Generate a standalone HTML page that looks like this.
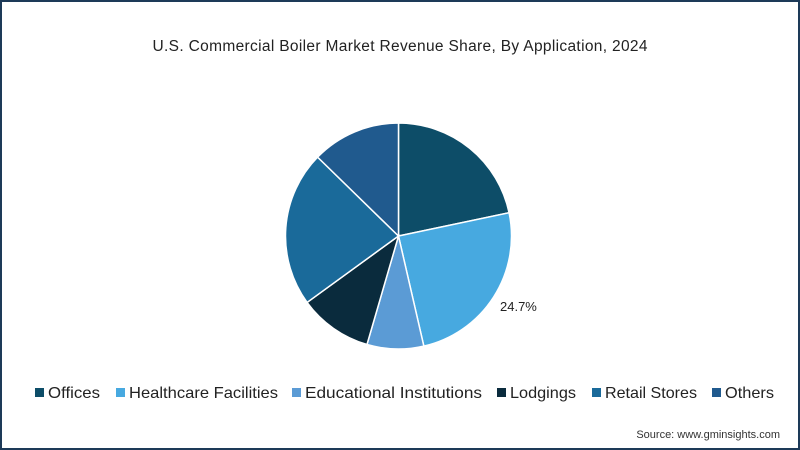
<!DOCTYPE html>
<html><head><meta charset="utf-8"><style>
body{margin:0;width:800px;height:450px;overflow:hidden;background:#fff;font-family:"Liberation Sans",sans-serif}
#frame{position:absolute;left:0;top:0;width:796px;height:446px;border:2px solid #1d3a58;background:#fff}
</style></head><body>
<div id="frame"></div>
<svg width="800" height="450" style="position:absolute;left:0;top:0">
<text x="400" y="51" text-anchor="middle" font-size="15.5" fill="#222" textLength="495">U.S. Commercial Boiler Market Revenue Share, By Application, 2024</text>
<g id="pie"></g>
<text x="500" y="311" font-size="13" fill="#222">24.7%</text>
<g id="legend"></g>
<text x="780" y="438" text-anchor="end" font-size="11" fill="#333">Source: www.gminsights.com</text>
</svg>
<script>
const categories=["Offices","Healthcare Facilities","Educational Institutions","Lodgings","Retail Stores","Others"];
const values=[21.7,24.7,8.1,10.5,22.3,12.7];
const colors=["#0d4d68","#47a9e0","#5b9bd5","#0a2b3d","#1a6a9a","#205a8e"];
const NS="http://www.w3.org/2000/svg";
const cx=398.5,cy=236,r=113;
const total=values.reduce((a,b)=>a+b,0);
const pie=document.getElementById('pie');
let a0=0;
function pt(a){return [cx+r*Math.sin(a),cy-r*Math.cos(a)];}
values.forEach((v,i)=>{
  const a1=a0+v/total*2*Math.PI;
  const p0=pt(a0),p1=pt(a1);
  const p=document.createElementNS(NS,'path');
  p.setAttribute('d',`M${cx},${cy}L${p0[0]},${p0[1]}A${r},${r} 0 ${a1-a0>Math.PI?1:0} 1 ${p1[0]},${p1[1]}Z`);
  p.setAttribute('fill',colors[i]);p.setAttribute('stroke','#fff');p.setAttribute('stroke-width','1.5');
  
  
  pie.appendChild(p);
  a0=a1;
});
const lg=document.getElementById('legend');
const tx=[48,129,305,510,605,725];
const tw=[52,149,177,66,92,49];
categories.forEach((c,i)=>{
  const g=document.createElementNS(NS,'g');
  
  
  const s=document.createElementNS(NS,'rect');
  s.setAttribute('x',tx[i]-13);s.setAttribute('y',388);s.setAttribute('width',9);s.setAttribute('height',9);s.setAttribute('fill',colors[i]);
  const t=document.createElementNS(NS,'text');
  t.setAttribute('x',tx[i]);t.setAttribute('y',398);t.setAttribute('font-size','16');t.setAttribute('fill','#222');
  t.setAttribute('textLength',tw[i]);t.setAttribute('lengthAdjust','spacingAndGlyphs');
  t.textContent=c;
  g.appendChild(s);g.appendChild(t);lg.appendChild(g);
});
</script>
</body></html>
